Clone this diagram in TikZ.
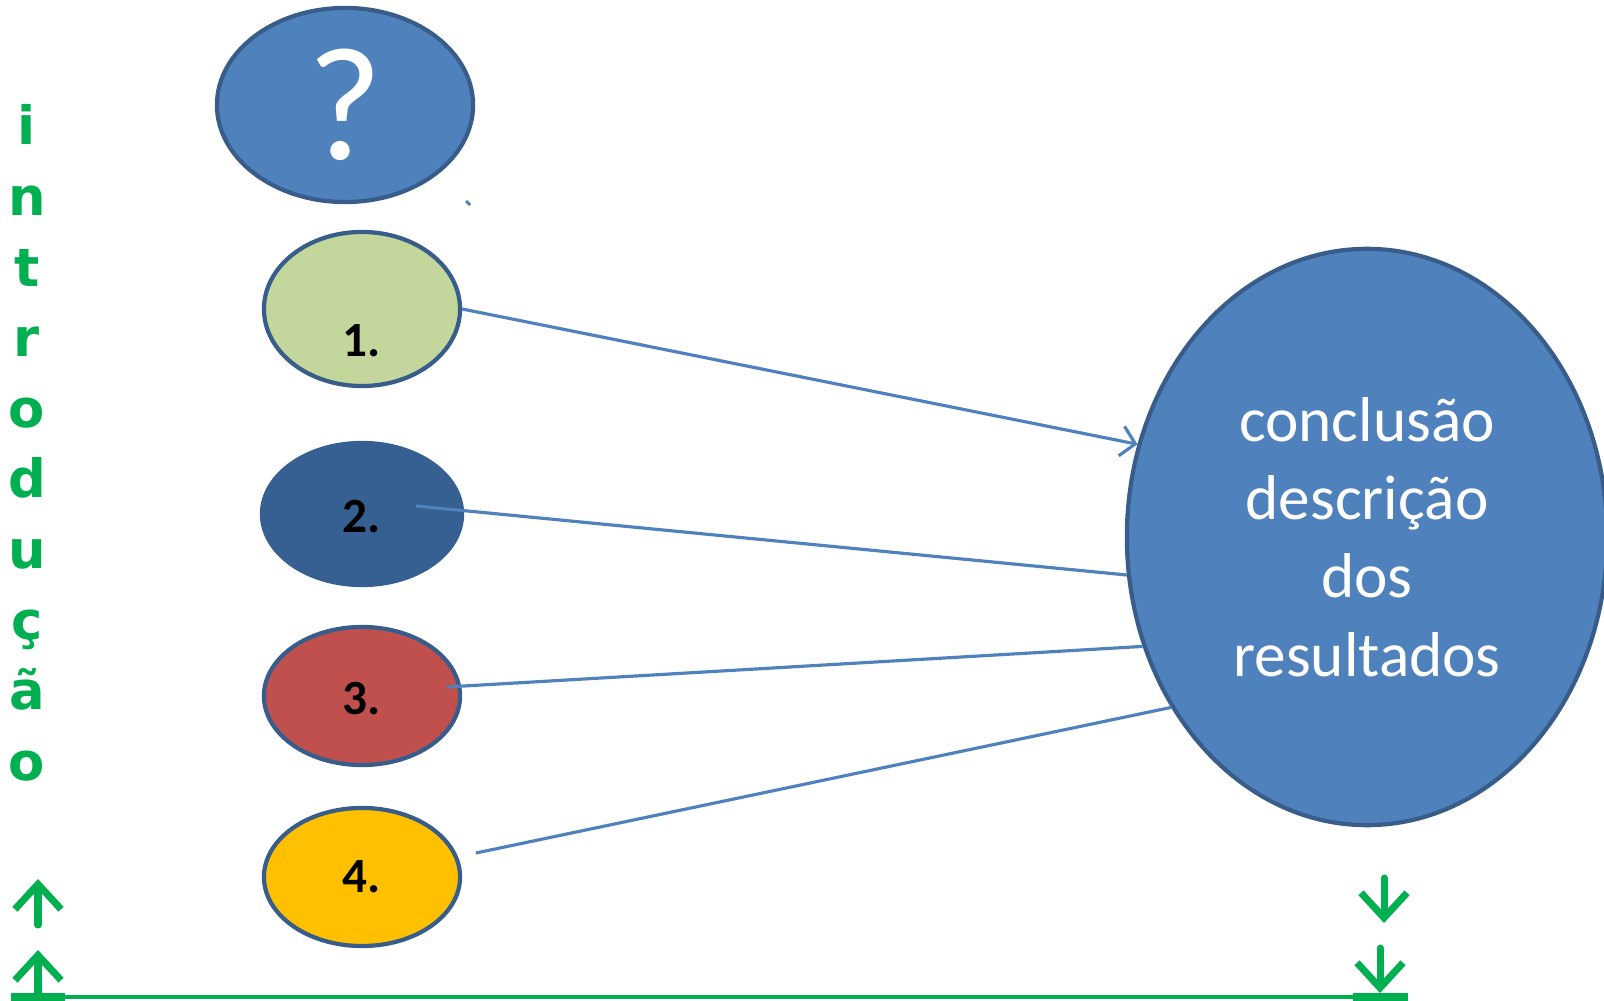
\documentclass[tikz,border=0pt]{standalone}
\usepackage{fontspec}
\setmainfont{Carlito}
\newfontfamily\introfont{DejaVu Sans}
\usetikzlibrary{shapes.geometric,arrows.meta}
\definecolor{bluefill}{HTML}{4F81BD}
\definecolor{blueline}{HTML}{385D8A}
\definecolor{greenfill}{HTML}{C3D69B}
\definecolor{darkfill}{HTML}{376092}
\definecolor{redfill}{HTML}{C0504D}
\definecolor{yellowfill}{HTML}{FFC000}
\definecolor{introgreen}{HTML}{00B050}

\begin{document}
\begin{tikzpicture}[x=0.01cm,y=-0.01cm,
  oval/.style={ellipse,draw=blueline,line width=1.2pt,inner sep=0pt},
  numlabel/.style={font=\fontsize{14}{17}\selectfont\bfseries},
  link/.style={draw=bluefill,line width=0.9pt},
  greenarrow/.style={draw=introgreen,line width=2pt,line cap=round,
    -{Straight Barb[length=2.5mm,width=4.6mm]}},
  letter/.style={text=introgreen,font=\introfont\fontsize{15}{18}\selectfont\bfseries,anchor=base}]
\useasboundingbox (0,0) rectangle (1604,1001);
%================================================================
%	Question
\node[oval,fill=bluefill,minimum width=2.56cm,minimum height=1.94cm,
  text=white,font=\fontsize{46}{50}\selectfont] (quest) at (345,105) {?};
\draw[bluefill,line width=0.8pt] (466,201) -- (470,205);

%================================================================
%	Numbered ellipses
\node[oval,fill=greenfill,minimum width=1.96cm,minimum height=1.54cm] (e1) at (362,309) {};
\node[oval,fill=darkfill,draw=darkfill,minimum width=2cm,minimum height=1.42cm] (e2) at (362,514) {};
\node[oval,fill=redfill,minimum width=1.96cm,minimum height=1.38cm] (e3) at (362,696) {};
\node[oval,fill=yellowfill,minimum width=1.96cm,minimum height=1.38cm] (e4) at (362,877) {};
%----------------------------------------------------------------
\node[numlabel] (n1) at (362,341) {1.};
\node[numlabel] (n2) at (362,517) {2.};
\node[numlabel] (n3) at (362,699) {3.};
\node[numlabel] (n4) at (362,877) {4.};

%================================================================
%	Conclusion
\node[oval,fill=bluefill,minimum width=4.8cm,minimum height=5.76cm,
  text=white,align=center,font=\fontsize{18}{22.3}\selectfont] (concl) at (1367,537)
  {conclusão\\descrição\\dos\\resultados};

%================================================================
%	Lines
\coordinate (s2) at (416,506);
\coordinate (s3) at (447,687);
\coordinate (s4) at (476,853);
\draw[link,-{Straight Barb[length=1.4mm,width=3mm]}] (e1.east) -- (concl.158);
\draw[link] (s2) -- (concl.189);
\draw[link] (s3) -- (concl.206);
\draw[link] (s4) -- (concl.221);

%================================================================
%	Intro
\foreach \ch [count=\k from 0] in {i,n,t,r,o,d,u,ç,ã,o}
  \node[letter] (intro\k) at (27,145+70.6*\k) {\ch};
%----------------------------------------------------------------
\coordinate (up1) at (38,925);
\coordinate (up2) at (38,997);
\coordinate (dn1) at (1384,878);
\coordinate (dn2) at (1380,948);
\draw[greenarrow] (up1) -- (38,879);
\draw[greenarrow] (up2) -- (38,950);
\draw[greenarrow] (dn1) -- (1384,923);
\draw[greenarrow] (dn2) -- (1380,993);
\draw[introgreen,line width=1.1pt] (65,997) -- (1353,997);
\draw[introgreen,line width=2.2pt] (11,997) -- (65,997);
\draw[introgreen,line width=2.2pt] (1353,997) -- (1408,997);
%================================================================
\end{tikzpicture}
\end{document}
